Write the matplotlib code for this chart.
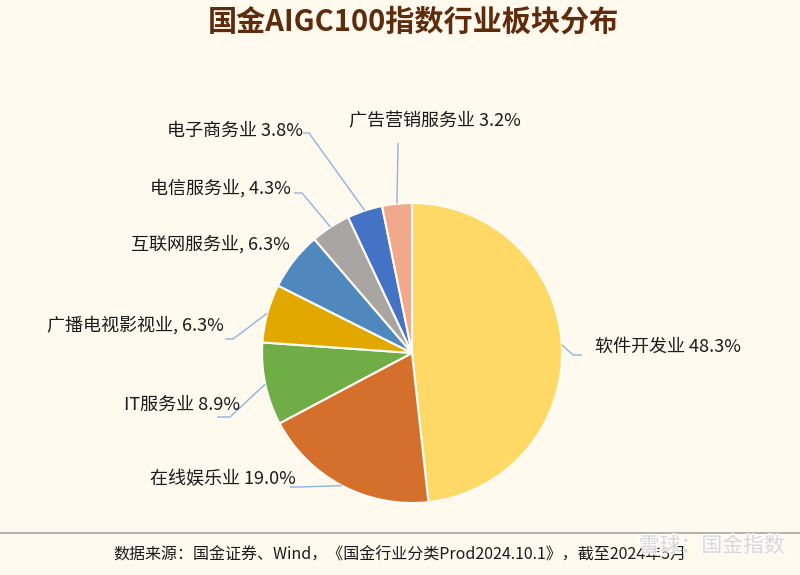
import numpy as np
import matplotlib
matplotlib.use("Agg")
import matplotlib.pyplot as plt
import matplotlib.patheffects as pe

plt.rcParams['font.family'] = ['Noto Sans CJK SC', 'DejaVu Sans']

# data
sectors = ["软件开发业", "在线娱乐业", "IT服务业", "广播电视影视业", "互联网服务业",
           "电信服务业", "电子商务业", "广告营销服务业"]
shares = [48.3, 19.0, 8.9, 6.3, 6.3, 4.3, 3.8, 3.2]
label_texts = ["软件开发业 48.3%", "在线娱乐业 19.0%", "IT服务业 8.9%", "广播电视影视业, 6.3%",
               "互联网服务业, 6.3%", "电信服务业, 4.3%", "电子商务业 3.8%", "广告营销服务业 3.2%"]
colors = ["#FFD966", "#D4702B", "#70AD47", "#E2A800", "#4F88BC", "#A9A5A2", "#4472C4", "#F2A98B"]

# layout (pixel coords, y measured from top)
W, H = 800, 575
cx, cy, R = 412, 353, 150
label_pos = [(595, 347, "left"), (296, 479, "right"), (240, 405, "right"), (224, 325, "right"),
             (290, 244, "right"), (291, 188, "right"), (303, 131, "right"), (349, 121, "left")]
# elbow points of the leader lines (None = no leader)
leader_pts = [[(582, 355), (573, 355)], [(290, 487), (300, 487)], [(217, 417), (230, 417)],
              [(225, 339), (233, 339)], None, [(294, 193), (302, 193)],
              [(303, 133), (309, 133)], [(398, 143)]]

bg = "#FFF9EE"
fig = plt.figure(figsize=(8, 5.75), dpi=100, facecolor=bg)
ax = fig.add_axes([0, 0, 1, 1], facecolor=bg)

explode = [0.025] + [0] * (len(shares) - 1)
wedges, _ = ax.pie(shares, colors=colors, startangle=90, counterclock=False,
                   center=(cx, H - cy), radius=R, explode=explode,
                   wedgeprops=dict(edgecolor="#FFFDF8", linewidth=1.5))

for w, txt, (tx, ty, ha), pts in zip(wedges, label_texts, label_pos, leader_pts):
    ax.text(tx, H - ty, txt, ha=ha, va="center", fontsize=13, color="#1A1A1A")
    if pts is None:
        continue
    mid = np.deg2rad((w.theta1 + w.theta2) / 2)
    ex = w.center[0] + R * np.cos(mid)
    ey = w.center[1] + R * np.sin(mid)
    xs = [p[0] for p in pts] + [ex]
    ys = [H - p[1] for p in pts] + [ey]
    ax.plot(xs, ys, color="#8DB4E2", lw=1, solid_capstyle="butt")

ax.set_xlim(0, W)
ax.set_ylim(0, H)
ax.set_aspect("equal")
ax.axis("off")

fig.text(413 / W, 1 - 22 / H, "国金AIGC100指数行业板块分布", ha="center", va="center",
         fontsize=21, fontweight="bold", color="#5E2C0C")

ax.axhline(H - 533, color="#A6A6A6", lw=1.2)
ax.text(400, H - 555, "数据来源：国金证券、Wind，《国金行业分类Prod2024.10.1》，截至2024年5月",
        ha="center", va="center", fontsize=11.5, color="#1A1A1A")
ax.text(785, H - 546, "雪球：国金指数", ha="right", va="center", fontsize=15,
        color="#D2D2D2", alpha=0.85,
        path_effects=[pe.withStroke(linewidth=2, foreground="white")])

fig.savefig("out.png", dpi=100, facecolor=bg)
